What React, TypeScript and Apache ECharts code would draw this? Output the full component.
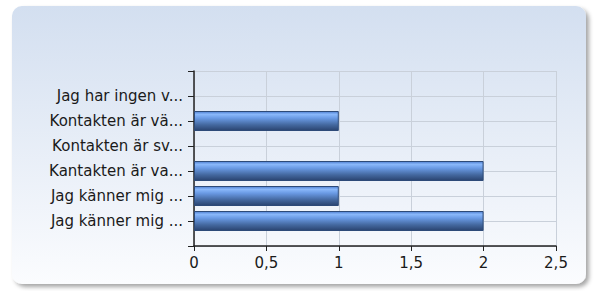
import React, { useEffect, useRef } from "react";
import * as echarts from "echarts";

const categories = ["", "Jag har ingen v...", "Kontakten är vä...", "Kontakten är sv...", "Kantakten är va...", "Jag känner mig ...", "Jag känner mig ...", ""];
const values: (number | null)[] = [null, 0, 1, 0, 2, 1, 2, null];
const xTicks = { min: 0, max: 2.5, interval: 0.5 };

export default function App() {
  const ref = useRef<HTMLDivElement>(null);
  useEffect(() => {
    document.body.style.margin = "0";
    const chart = echarts.init(ref.current!, null, { renderer: "svg" });
    const barColor = new echarts.graphic.LinearGradient(0, 0, 0, 1, [
      { offset: 0, color: "#4f80d2" },
      { offset: 0.15, color: "#8ab8fa" },
      { offset: 0.35, color: "#6a9ae4" },
      { offset: 0.7, color: "#44689f" },
      { offset: 1, color: "#2a4470" },
    ]);
    chart.setOption({
      animation: false,
      graphic: [
        {
          type: "rect",
          shape: { x: 12, y: 6, width: 574, height: 278, r: 10 },
          style: {
            fill: new echarts.graphic.LinearGradient(0, 0, 0, 1, [
              { offset: 0, color: "#d3dff0" },
              { offset: 1, color: "#fbfcfe" },
            ]),
            shadowColor: "rgba(0,0,0,0.35)",
            shadowBlur: 4,
            shadowOffsetX: 3,
            shadowOffsetY: 3,
          },
          z: -10,
        },
      ],
      grid: { left: 194, top: 71, right: 38, bottom: 45, containLabel: false },
      xAxis: {
        type: "value",
        min: xTicks.min,
        max: xTicks.max,
        interval: xTicks.interval,
        axisLine: { show: true, lineStyle: { color: "#222", width: 1.5 } },
        axisTick: { show: true, length: 5, lineStyle: { color: "#222" } },
        axisLabel: {
          margin: 9,
          fontFamily: "DejaVu Sans",
          fontSize: 15,
          color: "#1a1a1a",
          formatter: (v: number) => String(v).replace(".", ","),
        },
        splitLine: { show: true, lineStyle: { color: "#c9d0da", width: 1 } },
      },
      yAxis: {
        type: "category",
        data: categories,
        inverse: true,
        boundaryGap: false,
        axisLine: { show: true, lineStyle: { color: "#222", width: 1.5 } },
        axisTick: { show: true, length: 6, alignWithLabel: true, lineStyle: { color: "#222" } },
        axisLabel: {
          margin: 11,
          fontFamily: "DejaVu Sans",
          fontSize: 15,
          color: "#1a1a1a",
          interval: 0,
        },
        splitLine: { show: true, interval: 0, lineStyle: { color: "#c9d0da", width: 1 } },
      },
      series: [
        {
          type: "bar",
          barWidth: 20,
          data: values.map((v) =>
            v === 0 ? { value: v, itemStyle: { borderWidth: 0, opacity: 0 } } : v
          ),
          itemStyle: { color: barColor, borderColor: "#2d4a78", borderWidth: 1 },
        },
      ],
    });
    return () => chart.dispose();
  }, []);
  return <div ref={ref} style={{ width: 594, height: 291 }} />;
}
